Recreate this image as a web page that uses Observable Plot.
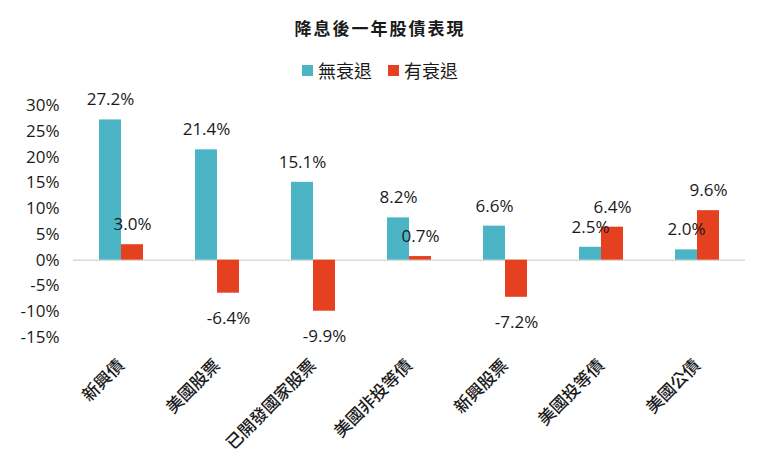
<!DOCTYPE html>
<html>
<head>
<meta charset="utf-8">
<script src="https://cdn.jsdelivr.net/npm/d3@7"></script>
<script src="https://cdn.jsdelivr.net/npm/@observablehq/plot@0.6"></script>
<style>
  body { margin: 0; background: #fff; font-family: "Noto Sans CJK TC", "Noto Sans", sans-serif; color: #1a1a1a; }
  #wrap { width: 760px; height: 471px; position: relative; overflow: hidden; }
  #title { position: absolute; top: 16px; left: 0; width: 760px; text-align: center; font-size: 17px; font-weight: 700; line-height: 24px; letter-spacing: 2px; }
  #legend { position: absolute; top: 57px; left: 0; width: 760px; display: flex; justify-content: center; gap: 16px; font-size: 18px; line-height: 26px; }
  #legend span.item { display: flex; align-items: center; gap: 5px; }
  #legend span.sw { width: 11px; height: 11px; display: inline-block; }
  #chart { position: absolute; top: 88px; left: 0; }
</style>
</head>
<body>
<div id="wrap">
  <div id="title">降息後一年股債表現</div>
  <div id="legend"></div>
  <div id="chart"></div>
</div>
<script>
const categories = ["新興債", "美國股票", "已開發國家股票", "美國非投等債", "新興股票", "美國投等債", "美國公債"];
const seriesNames = ["無衰退", "有衰退"];
const noRecession = [27.2, 21.4, 15.1, 8.2, 6.6, 2.5, 2.0];
const recession = [3.0, -6.4, -9.9, 0.7, -7.2, 6.4, 9.6];
const colors = ["#4bb5c6", "#e5401f"];
const yTicks = [-15, -10, -5, 0, 5, 10, 15, 20, 25, 30];

const data = [];
categories.forEach((c, i) => {
  data.push({category: c, series: seriesNames[0], value: noRecession[i]});
  data.push({category: c, series: seriesNames[1], value: recession[i]});
});

const legend = document.getElementById("legend");
seriesNames.forEach((s, i) => {
  const item = document.createElement("span");
  item.className = "item";
  item.innerHTML = `<span class="sw" style="background:${colors[i]}"></span><span>${s}</span>`;
  legend.appendChild(item);
});

const fmt = v => v.toFixed(1) + "%";
const numFont = "'Open Sans', 'Noto Sans', sans-serif";

const chart = Plot.plot({
  width: 760,
  height: 383,
  marginTop: 17,
  marginBottom: 134,
  marginLeft: 73,
  marginRight: 15,
  style: {fontFamily: "'Noto Sans CJK TC', 'Noto Sans', sans-serif", fontSize: "16px", color: "#1a1a1a", background: "transparent"},
  fx: {domain: categories, padding: 0, label: null},
  x: {domain: seriesNames, paddingInner: 0, paddingOuter: 1.18, axis: null},
  y: {domain: [-15, 30], label: null},
  color: {domain: seriesNames, range: colors},
  marks: [
    Plot.axisY({ticks: yTicks, tickFormat: d => d + "%", tickSize: 0, tickPadding: 14, fontSize: 17, fontFamily: numFont, label: null}),
    Plot.axisFx({anchor: "bottom", tickRotate: -45, tickSize: 0, tickPadding: 25, fontSize: 17, fontWeight: 500, label: null}),
    Plot.ruleY([0], {stroke: "#d9d9d9", strokeWidth: 1.5}),
    Plot.barY(data, {fx: "category", x: "series", y: "value", fill: "series"}),
    Plot.text(data.filter(d => d.value >= 0), {fx: "category", x: "series", y: "value", text: d => fmt(d.value), dy: -20, fontSize: 17, fontFamily: numFont, fill: "#1a1a1a"}),
    Plot.text(data.filter(d => d.value < 0), {fx: "category", x: "series", y: "value", text: d => fmt(d.value), dy: 25, fontSize: 17, fontFamily: numFont, fill: "#1a1a1a"})
  ]
});
document.getElementById("chart").appendChild(chart);
</script>
</body>
</html>
